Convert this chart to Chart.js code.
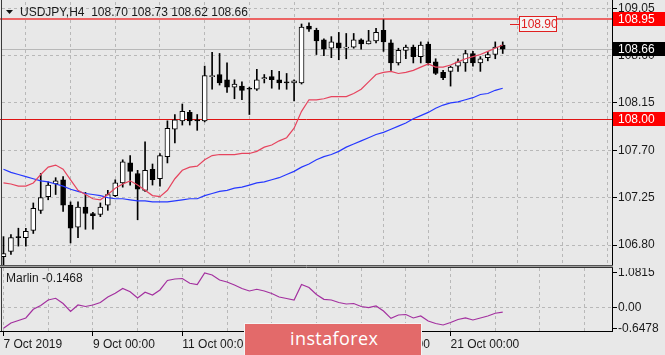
<!DOCTYPE html>
<html>
<head>
<meta charset="utf-8">
<title>USDJPY H4</title>
<script src="https://cdn.jsdelivr.net/npm/chart.js@4.4.1/dist/chart.umd.min.js"></script>
<style>
  html, body { margin: 0; padding: 0; background: #e8e8e8; }
  #wrap { position: relative; width: 665px; height: 355px; overflow: hidden; background: #e8e8e8; }
  #priceChart { position: absolute; left: 0; top: 0; }
  #marlinChart { position: absolute; left: 0; top: 268px; }
  #logo { position: absolute; left: 244px; top: 323px; width: 178px; height: 40px; background: #e36a6a; border: 1px solid #f4f4f4; box-sizing: border-box; }
  #logo span { position: absolute; left: 45px; top: 3px; color: #fff; font-family: 'Open Sans', sans-serif; font-size: 18px; letter-spacing: 0.4px; line-height: 22px; }
</style>
</head>
<body>
<div id="wrap">
  <canvas id="priceChart" width="665" height="268"></canvas>
  <canvas id="marlinChart" width="665" height="87"></canvas>
  <div id="logo"><span>instaforex</span></div>
</div>
<script>
// USDJPY H4 candles, 7 Oct 2019 00:00 .. 22 Oct 2019 04:00
const opens = [106.69,106.74,106.88,106.87,106.94,107.13,107.26,107.38,107.42,107.18,
  106.97,107.16,107.10,107.09,107.18,107.27,107.39,107.58,107.48,107.32,
  107.52,107.43,107.64,107.90,107.98,108.06,107.99,107.98,108.40,108.42,
  108.37,108.30,108.31,108.29,108.28,108.38,108.40,108.37,108.35,108.34,
  108.34,108.88,108.84,108.75,108.67,108.72,108.67,108.68,108.75,108.71,
  108.74,108.84,108.72,108.53,108.65,108.68,108.59,108.71,108.54,108.44,
  108.45,108.50,108.53,108.62,108.53,108.58,108.61,108.70];
const highs = [106.88,106.90,106.96,106.96,107.20,107.48,107.40,107.44,107.45,107.21,
  107.21,107.30,107.11,107.20,107.32,107.42,107.61,107.65,107.51,107.78,
  107.57,107.67,107.98,108.04,108.14,108.08,108.04,108.50,108.63,108.62,
  108.53,108.37,108.35,108.30,108.47,108.42,108.46,108.45,108.43,108.37,
  108.90,108.91,108.86,108.76,108.78,108.82,108.81,108.81,108.76,108.84,
  108.86,108.94,108.75,108.67,108.70,108.70,108.73,108.73,108.57,108.46,
  108.50,108.57,108.65,108.64,108.59,108.64,108.73,108.73];
const lows = [106.61,106.71,106.79,106.79,106.91,107.10,107.23,107.28,107.12,106.82,
  106.87,106.95,106.95,107.07,107.13,107.26,107.35,107.37,107.04,107.31,
  107.37,107.36,107.58,107.77,107.94,107.94,107.89,107.97,108.28,108.32,
  108.25,108.19,108.18,108.04,108.27,108.34,108.29,108.28,108.28,108.17,
  108.33,108.83,108.61,108.60,108.58,108.56,108.57,108.67,108.66,108.71,
  108.72,108.64,108.46,108.51,108.57,108.53,108.53,108.51,108.42,108.37,
  108.31,108.45,108.45,108.50,108.45,108.55,108.57,108.62];
const closes = [106.72,106.87,106.87,106.93,107.15,107.25,107.37,107.41,107.18,106.96,
  107.16,107.10,107.08,107.16,107.28,107.39,107.59,107.50,107.33,107.51,
  107.42,107.65,107.91,107.99,108.07,107.98,107.98,108.41,108.41,108.34,
  108.30,108.33,108.27,108.28,108.37,108.39,108.37,108.34,108.34,108.36,
  108.87,108.85,108.74,108.66,108.73,108.67,108.68,108.75,108.71,108.74,
  108.82,108.73,108.53,108.65,108.68,108.59,108.70,108.53,108.43,108.39,
  108.49,108.54,108.62,108.53,108.57,108.61,108.68,108.66];
const maFast = [107.39,107.38,107.36,107.36,107.39,107.47,107.54,107.56,107.52,107.42,
  107.32,107.28,107.24,107.23,107.28,107.34,107.38,107.41,107.37,107.32,
  107.27,107.26,107.32,107.43,107.51,107.54,107.55,107.61,107.65,107.66,
  107.66,107.66,107.67,107.67,107.69,107.73,107.75,107.79,107.82,107.91,
  108.07,108.18,108.18,108.19,108.21,108.21,108.21,108.24,108.28,108.35,
  108.42,108.44,108.45,108.43,108.44,108.46,108.49,108.52,108.49,108.49,
  108.51,108.54,108.57,108.59,108.61,108.64,108.67,108.70];
const maSlow = [107.52,107.49,107.47,107.45,107.43,107.41,107.40,107.38,107.36,107.33,
  107.31,107.29,107.28,107.27,107.25,107.24,107.24,107.23,107.22,107.22,
  107.21,107.21,107.21,107.22,107.23,107.24,107.24,107.27,107.29,107.31,
  107.32,107.34,107.35,107.37,107.39,107.40,107.42,107.44,107.47,107.50,
  107.54,107.57,107.61,107.64,107.66,107.69,107.73,107.76,107.79,107.82,
  107.85,107.87,107.90,107.93,107.96,108.00,108.03,108.06,108.10,108.13,
  108.15,108.16,108.18,108.20,108.23,108.24,108.27,108.29];
const marlin = [-0.6478,-0.484,-0.406,-0.328,-0.056,0.063,0.234,0.288,0.125,-0.125,
  0.078,0.031,0.078,0.156,0.328,0.444,0.594,0.494,0.297,0.475,
  0.391,0.547,0.844,0.891,0.906,0.756,0.719,1.0815,1.016,0.859,
  0.797,0.703,0.594,0.516,0.569,0.516,0.438,0.328,0.281,0.234,
  0.719,0.625,0.406,0.256,0.234,0.156,0.109,0.125,0.031,-0.006,
  0.047,-0.109,-0.338,-0.234,-0.219,-0.328,-0.266,-0.422,-0.5,-0.547,
  -0.469,-0.375,-0.328,-0.391,-0.328,-0.266,-0.181,-0.1468];

const priceTicks = [109.05, 108.60, 108.15, 107.70, 107.25, 106.80];
const levelLines = [108.95, 108.00];
const targetLevel = 108.90;
const marlinTicks = [1.0815, 0, -0.6478];
const gridIdx = [0, 6, 12, 18, 24, 30, 36, 42, 48, 54, 60, 66, 72, 78];
const dateTickIdx = [0, 12, 24, 36, 48, 60];
const dateTickLabels = ['7 Oct 2019', '9 Oct 00:00', '11 Oct 00:00', '15 Oct 00:00', '17 Oct 00:00', '21 Oct 00:00'];

const FONT = "'Liberation Sans', Arial, sans-serif";
const TEXT = '#1a1a1a';
const GRID = '#b8b8b8';

function xAxis(showLabels) {
  return {
    type: 'linear', min: -0.2, max: 81.8, offset: false,
    afterBuildTicks: s => { s.ticks = gridIdx.map(v => ({ value: v })); },
    afterFit: s => { s.height = showLabels ? 23 : 0; s.paddingLeft = 0; s.paddingRight = 0; },
    grid: {
      color: GRID, drawTicks: showLabels, tickLength: 4, tickBorderDash: [],
      tickColor: c => (c.tick && dateTickIdx.includes(c.tick.value)) ? '#000' : 'rgba(0,0,0,0)'
    },
    border: { display: false, dash: [3, 3] },
    ticks: {
      display: showLabels, autoSkip: false, maxRotation: 0, align: 'start', padding: 1,
      color: TEXT, font: { family: FONT, size: 12 },
      callback: v => { const k = dateTickIdx.indexOf(v); return k >= 0 ? dateTickLabels[k] : ''; }
    }
  };
}

function hline(ctx, x1, x2, y, color, w) {
  ctx.beginPath();
  ctx.strokeStyle = color;
  ctx.lineWidth = w;
  ctx.moveTo(x1, y);
  ctx.lineTo(x2, y);
  ctx.stroke();
}
function vline(ctx, x, y1, y2, color) {
  ctx.beginPath();
  ctx.strokeStyle = color;
  ctx.lineWidth = 1;
  ctx.moveTo(x, y1);
  ctx.lineTo(x, y2);
  ctx.stroke();
}
function tag(ctx, x, w, y, bg, fg, text) {
  ctx.fillStyle = bg;
  ctx.fillRect(x, Math.round(y) - 7, w, 14);
  ctx.fillStyle = fg;
  ctx.textAlign = 'left';
  ctx.textBaseline = 'middle';
  ctx.fillText(text, x + 5, Math.round(y) + 0.5);
}

const priceDecor = {
  id: 'priceDecor',
  beforeDatasetsDraw(chart) {
    const { ctx, chartArea: a, scales: { y } } = chart;
    ctx.save();
    const last = closes[closes.length - 1];
    hline(ctx, a.left, a.right, Math.round(y.getPixelForValue(last)) + 0.5, '#b8b8b8', 1);
    hline(ctx, 0, a.right, Math.round(y.getPixelForValue(levelLines[0])), '#ec6464', 2);
    hline(ctx, 0, a.right, Math.round(y.getPixelForValue(levelLines[1])) + 0.5, '#e01414', 1);
    ctx.restore();
  },
  afterDraw(chart) {
    const { ctx, chartArea: a, scales: { x, y } } = chart;
    ctx.save();
    // frame
    vline(ctx, 1.5, 0, chart.height, '#3a3a3a');
    vline(ctx, 612.5, 0, 265.5, '#000');
    hline(ctx, 0, 613, 265.5, '#555', 1);
    hline(ctx, 0, 613, 266.5, '#a0a0a0', 1);
    hline(ctx, 0, 613, 267.5, '#333', 1);
    // title
    ctx.fillStyle = '#111';
    ctx.beginPath();
    ctx.moveTo(6, 10); ctx.lineTo(13, 10); ctx.lineTo(9.5, 14); ctx.closePath(); ctx.fill();
    const n = closes.length - 1;
    ctx.font = '12px ' + FONT;
    ctx.fillStyle = TEXT;
    ctx.textAlign = 'left';
    ctx.textBaseline = 'middle';
    ctx.fillText('USDJPY,H4  ' + [opens[n], highs[n], lows[n], closes[n]].map(v => v.toFixed(2)).join(' '), 20, 12.5);
    // price tags on the axis
    const tw = chart.width - a.right;
    tag(ctx, a.right, tw, y.getPixelForValue(levelLines[0]), '#ff0000', '#fff', levelLines[0].toFixed(2));
    tag(ctx, a.right, tw, y.getPixelForValue(levelLines[1]), '#ff0000', '#fff', levelLines[1].toFixed(2));
    tag(ctx, a.right, tw, y.getPixelForValue(closes[n]), '#000', '#fff', closes[n].toFixed(2));
    // target marker
    const ty = Math.round(y.getPixelForValue(targetLevel)) + 0.5;
    const tx = Math.round(x.getPixelForValue(n + 1));
    hline(ctx, tx, tx + 9, ty, '#e02020', 1);
    ctx.fillStyle = '#f4f4f4';
    ctx.fillRect(tx + 9.5, ty - 8, 37, 15);
    ctx.strokeStyle = '#e02020';
    ctx.lineWidth = 1;
    ctx.strokeRect(tx + 9.5, ty - 8, 37, 15);
    ctx.fillStyle = '#e02020';
    ctx.fillText(targetLevel.toFixed(2), tx + 11, ty);
    ctx.restore();
  }
};

const marlinDecor = {
  id: 'marlinDecor',
  afterDraw(chart) {
    const { ctx, chartArea: a } = chart;
    ctx.save();
    vline(ctx, 1.5, 0, a.bottom, '#3a3a3a');
    vline(ctx, 612.5, 0, a.bottom, '#000');
    hline(ctx, 0, 613, a.bottom - 0.5, '#000', 1);
    ctx.font = '12px ' + FONT;
    ctx.fillStyle = TEXT;
    ctx.textAlign = 'left';
    ctx.textBaseline = 'middle';
    ctx.fillText('Marlin ' + marlin[marlin.length - 1].toFixed(4), 6, 10.5);
    ctx.restore();
  }
};

window.onload = function () {
  Chart.defaults.font.family = FONT;
  Chart.defaults.font.size = 12;
  Chart.defaults.color = TEXT;

  const bodyColors = opens.map((o, i) => closes[i] >= o ? '#ffffff' : '#000000');

  new Chart(document.getElementById('priceChart').getContext('2d'), {
    type: 'line',
    data: {
      datasets: [
        { type: 'line', data: maFast.map((v, i) => ({ x: i, y: v })), borderColor: '#e6445e', borderWidth: 1.2, pointRadius: 0, tension: 0, order: 1 },
        { type: 'line', data: maSlow.map((v, i) => ({ x: i, y: v })), borderColor: '#2638ff', borderWidth: 1.2, pointRadius: 0, tension: 0, order: 1 },
        { type: 'bar', data: opens.map((o, i) => ({ x: i, y: [o, closes[i]] })), backgroundColor: bodyColors, borderColor: '#000', borderWidth: 1, borderSkipped: false, barThickness: 5, grouped: false, order: 2 },
        { type: 'bar', data: lows.map((l, i) => ({ x: i, y: [l, highs[i]] })), backgroundColor: '#000', borderWidth: 0, barThickness: 1, grouped: false, order: 3 }
      ]
    },
    options: {
      responsive: false, animation: false, devicePixelRatio: 1, events: [],
      layout: { padding: { left: 2, top: 2, right: 0, bottom: 3 }, autoPadding: false },
      plugins: { legend: { display: false }, tooltip: { enabled: false } },
      scales: {
        x: xAxis(false),
        y: {
          position: 'right', min: 106.6105, max: 109.109,
          afterBuildTicks: s => { s.ticks = priceTicks.map(v => ({ value: v })); },
          afterFit: s => { s.width = 52; s.paddingTop = 0; s.paddingBottom = 0; },
          grid: { color: GRID, tickLength: 4, tickColor: '#000', tickBorderDash: [] },
          border: { display: false, dash: [3, 3] },
          ticks: { padding: 1, color: TEXT, font: { family: FONT, size: 12 }, callback: v => v.toFixed(2) }
        }
      }
    },
    plugins: [priceDecor]
  });

  new Chart(document.getElementById('marlinChart').getContext('2d'), {
    type: 'line',
    data: {
      datasets: [
        { data: marlin.map((v, i) => ({ x: i, y: v })), borderColor: '#a3309f', borderWidth: 1.2, pointRadius: 0, tension: 0 }
      ]
    },
    options: {
      responsive: false, animation: false, devicePixelRatio: 1, events: [],
      layout: { padding: { left: 2, top: 0, right: 0, bottom: 0 }, autoPadding: false },
      plugins: { legend: { display: false }, tooltip: { enabled: false } },
      scales: {
        x: xAxis(true),
        y: {
          position: 'right', min: -0.766, max: 1.234,
          afterBuildTicks: s => { s.ticks = marlinTicks.map(v => ({ value: v })); },
          afterFit: s => { s.width = 52; s.paddingTop = 0; s.paddingBottom = 0; },
          grid: { color: c => (c.tick && c.tick.value === 0) ? GRID : 'rgba(0,0,0,0)', tickLength: 4, tickColor: '#000', tickBorderDash: [] },
          border: { display: false, dash: [3, 3] },
          ticks: { padding: 1, color: TEXT, font: { family: FONT, size: 12 }, callback: v => v === 0 ? '0.00' : String(v) }
        }
      }
    },
    plugins: [marlinDecor]
  });
};
</script>
</body>
</html>
